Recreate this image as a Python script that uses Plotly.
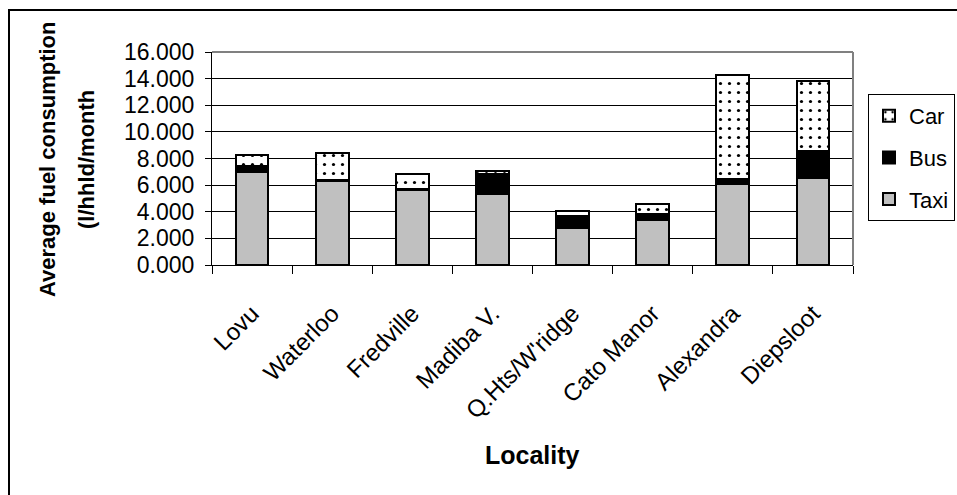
import plotly.graph_objects as go

localities = ["Lovu", "Waterloo", "Fredville", "Madiba V.", "Q.Hts/W'ridge",
              "Cato Manor", "Alexandra", "Diepsloot"]
taxi = [7.00, 6.30, 5.65, 5.35, 2.75, 3.40, 6.10, 6.55]
bus = [0.40, 0.12, 0.05, 1.50, 0.90, 0.40, 0.35, 2.05]
car = [0.85, 2.00, 1.10, 0.20, 0.40, 0.75, 7.80, 5.20]

y_ticks = [0, 2, 4, 6, 8, 10, 12, 14, 16]

FONT = "Arial, Liberation Sans, sans-serif"

W, H = 957, 495
PL, PR, PT, PB = 212, 853, 52, 265   # plot area in screen pixels
PW, PH = PR - PL, PB - PT


def px(xs):
    return (xs - PL) / PW


def py(ys):
    return (PB - ys) / PH


fig = go.Figure()
fig.add_trace(go.Bar(
    x=localities, y=taxi, name="Taxi", legendgroup="taxi", legendrank=3,
    marker=dict(color="#C0C0C0", line=dict(color="black", width=2)),
))
fig.add_trace(go.Bar(
    x=localities, y=bus, name="Bus", legendgroup="bus", legendrank=2,
    marker=dict(color="black", line=dict(color="black", width=2)),
))
fig.add_trace(go.Bar(
    x=localities, y=car, name="Car", legendgroup="car", legendrank=1,
    marker=dict(color="white", line=dict(color="black", width=2),
                pattern=dict(shape=".", fgcolor="black", bgcolor="white",
                             fgopacity=1, size=9, solidity=0.1)),
))

fig.update_layout(
    barmode="stack",
    bargap=0.59,
    width=W, height=H,
    paper_bgcolor="white", plot_bgcolor="white",
    font=dict(family=FONT, color="black", size=22),
    margin=dict(l=PL, r=W - PR, t=PT, b=H - PB, autoexpand=False),
    showlegend=True,
    legend=dict(
        x=px(868), y=py(94),
        xanchor="left", yanchor="top",
        bordercolor="black", borderwidth=1,
        bgcolor="white",
        traceorder="grouped",
        tracegroupgap=10,
        font=dict(size=22, family=FONT),
    ),
    xaxis=dict(
        type="category",
        tickangle=-45,
        tickson="boundaries",
        ticks="outside", ticklen=8, tickcolor="black", tickwidth=1,
        showline=True, linecolor="black", linewidth=1,
        showgrid=False,
        ticklabelstandoff=24,
        tickfont=dict(size=24),
    ),
    yaxis=dict(
        range=[0, 16],
        tickvals=y_ticks,
        tickformat=".3f",
        ticks="outside", ticklen=6, tickcolor="black", tickwidth=1,
        showline=True, linecolor="black", linewidth=1,
        showgrid=True, gridcolor="black", gridwidth=1,
        zeroline=False,
        ticklabelstandoff=6,
        tickfont=dict(size=23),
    ),
)

fig.add_annotation(text="<b>Locality</b>", xref="paper", yref="paper",
                   x=0.5, y=py(455), xanchor="center", yanchor="middle",
                   showarrow=False, font=dict(size=25))

# y title in two lines
fig.add_annotation(text="<b>Average fuel consumption</b>", xref="paper", yref="paper",
                   x=px(47), y=py(160), textangle=-90,
                   xanchor="center", yanchor="middle", showarrow=False,
                   font=dict(size=22))
fig.add_annotation(text="<b>(l/hhld/month</b>", xref="paper", yref="paper",
                   x=px(86), y=py(160), textangle=-90,
                   xanchor="center", yanchor="middle", showarrow=False,
                   font=dict(size=22))

# grey frame on top/right of plot area
fig.add_shape(type="line", xref="paper", yref="paper", x0=0, x1=1, y0=1, y1=1,
              line=dict(color="#808080", width=2))
fig.add_shape(type="line", xref="paper", yref="paper", x0=1, x1=1, y0=0, y1=1,
              line=dict(color="#808080", width=2))

# outer chart border
fig.add_shape(type="rect", xref="paper", yref="paper",
              x0=px(9), x1=px(1000), y0=py(520), y1=py(10),
              line=dict(color="black", width=2), fillcolor="rgba(0,0,0,0)",
              layer="below")

fig.write_html(
    "out.html",
    config={"displayModeBar": False},
    post_script="document.body.style.margin='0px';document.body.style.overflow='hidden';",
)
